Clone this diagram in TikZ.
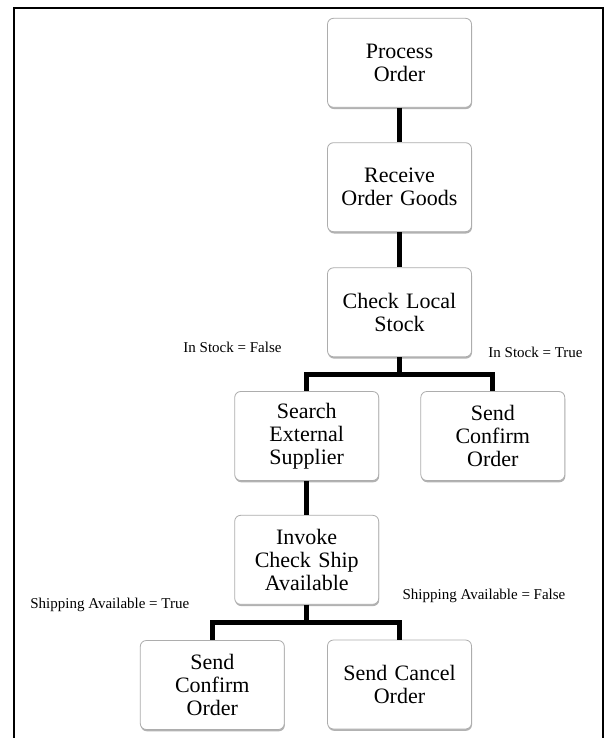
\documentclass[tikz,border=0pt]{standalone}
\usepackage{fontspec}
\setmainfont{Liberation Serif}
\usetikzlibrary{shadows}
\begin{document}
\begin{tikzpicture}[x=1pt,y=-1pt,
  stepbox/.style={draw=black!32, line width=0.8pt, fill=white,
    rounded corners=6pt, minimum width=144pt, minimum height=89pt,
    text width=140pt, align=center, inner sep=2pt,
    font=\fontsize{22}{23}\selectfont,
    drop shadow={shadow xshift=0.5pt, shadow yshift=-1.8pt, fill=black, opacity=0.3}},
  link/.style={line width=5pt, black},
  cond/.style={font=\fontsize{15}{17}\selectfont, inner sep=0pt},
  frameline/.style={line width=2.3pt, black}]

% page and outer frame (open at the bottom)
\fill[white] (0,0) rectangle (605,738);
\useasboundingbox (0,0) rectangle (605,738);
\draw[frameline] (14,738) -- (14,8.3) -- (603.3,8.3) -- (603.3,738);

% process steps
\node[stepbox] (po)  at (399.5,62.8)  {Process\\Order};
\node[stepbox] (ro)  at (399.5,187.2) {Receive\\Order Goods};
\node[stepbox] (cl)  at (399.5,312.3) {Check Local\\Stock};
\node[stepbox] (se)  at (306.7,436)   {Search\\External\\Supplier};
\node[stepbox] (sc1) at (492.8,436)   {Send\\Confirm\\Order};
\node[stepbox] (inv) at (306.7,559.8) {Invoke\\Check Ship\\Available};
\node[stepbox] (sc2) at (212.3,685)   {Send\\Confirm\\Order};
\node[stepbox] (can) at (399.5,684.5) {Send Cancel\\Order};

% branch junctions
\coordinate (j1) at (399.5,374.5);
\coordinate (j2) at (306.7,622.6);

% connectors
\draw[link] (po.south) -- (ro.north);
\draw[link] (ro.south) -- (cl.north);
\draw[link] (cl.south) -- (j1);
\draw[link] (j1) -| (se.north);
\draw[link] (j1) -| (sc1.north);
\draw[link] (se.south) -- (inv.north);
\draw[link] (inv.south) -- (j2);
\draw[link] (j2) -| (sc2.north);
\draw[link] (j2) -| (can.north);

% branch conditions
\node[cond] (c1) at (232.5,347) {In Stock = False};
\node[cond] (c2) at (535.5,352) {In Stock = True};
\node[cond] (c3) at (109.8,605) {Shipping Available = True};
\node[cond] (c4) at (484,596)   {Shipping Available = False};
\end{tikzpicture}
\end{document}
